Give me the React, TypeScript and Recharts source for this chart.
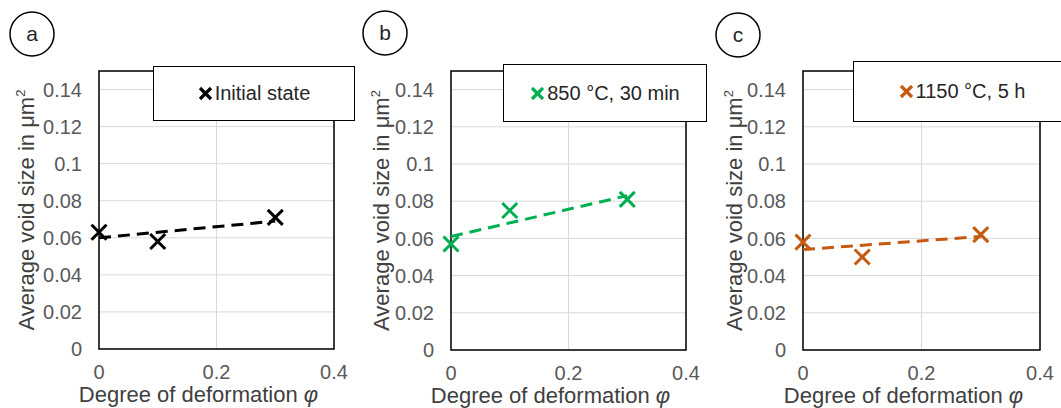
import React from 'react';
import { ComposedChart, Line, Scatter, XAxis, YAxis, CartesianGrid, ReferenceArea, Label } from 'recharts';

const phiValues = [0, 0.1, 0.3];
const initialSize = [0.063, 0.058, 0.071];
const size850 = [0.057, 0.075, 0.081];
const size1150 = [0.058, 0.05, 0.062];

// linear trendlines (end points)
const trendPhi = [0, 0.3];
const initialTrend = [0.06, 0.069];
const trend850 = [0.061, 0.083];
const trend1150 = [0.054, 0.061];

const xTicks = [0, 0.2, 0.4];
const yTicks = [0, 0.02, 0.04, 0.06, 0.08, 0.1, 0.12, 0.14];

const FONT = 'Arial, "Liberation Sans", sans-serif';
const TICK_COLOR = '#595959';

const toPoints = (xs: number[], ys: number[]) => xs.map((phi, i) => ({ phi, size: ys[i] }));

function Cross({ cx, cy, color, size = 7.5, width = 3 }: any) {
  if (cx == null || cy == null) return null;
  return (
    <g>
      <line x1={cx - size} y1={cy - size} x2={cx + size} y2={cy + size} stroke={color} strokeWidth={width} />
      <line x1={cx - size} y1={cy + size} x2={cx + size} y2={cy - size} stroke={color} strokeWidth={width} />
    </g>
  );
}

const XTick = ({ x, y, payload }: any) => (
  <text x={x} y={y} dy="0.71em" textAnchor="middle" fill={TICK_COLOR} fontSize={20} fontFamily={FONT}>
    {String(payload.value)}
  </text>
);

const YTick = ({ x, y, payload }: any) => (
  <text x={x} y={y} dy="0.36em" textAnchor="end" fill={TICK_COLOR} fontSize={20} fontFamily={FONT}>
    {String(payload.value)}
  </text>
);

interface PanelProps {
  left: number;
  width: number;
  plotLeft: number;
  plotRight: number;
  plotBottom: number;
  letter: string;
  circle: { x: number; y: number };
  name: string;
  color: string;
  values: number[];
  trend: number[];
  legend: { left: number; top: number; width: number; height: number };
}

function Panel({ left, width, plotLeft, plotRight, plotBottom, letter, circle, name, color, values, trend, legend }: PanelProps) {
  const points = toPoints(phiValues, values);
  const trendLine = toPoints(trendPhi, trend);
  const xLabelCenter = (plotLeft + plotRight) / 2 - 18;

  return (
    <div style={{ position: 'absolute', left, top: 0, width, height: 408 }}>
      <ComposedChart
        width={width}
        height={408}
        margin={{ top: 71, right: width - plotRight, bottom: 0, left: 0 }}
      >
        <CartesianGrid stroke="#d9d9d9" strokeWidth={1} />
        <XAxis
          dataKey="phi"
          type="number"
          domain={[0, 0.4]}
          ticks={xTicks}
          interval={0}
          height={408 - plotBottom}
          axisLine={false}
          tickLine={false}
          tickSize={0}
          tickMargin={16}
          tick={<XTick />}
        >
          <Label
            content={({ viewBox }: any) => (
              <text x={xLabelCenter} y={viewBox.y + 53} textAnchor="middle" fill="#404040" fontSize={22} fontFamily={FONT}>
                Degree of deformation <tspan fontStyle="italic">φ</tspan>
              </text>
            )}
          />
        </XAxis>
        <YAxis
          type="number"
          domain={[0, 0.15]}
          ticks={yTicks}
          interval={0}
          width={plotLeft}
          axisLine={false}
          tickLine={false}
          tickSize={0}
          tickMargin={17}
          tick={<YTick />}
        >
          <Label
            content={({ viewBox }: any) => {
              const cy = viewBox.y + viewBox.height / 2;
              return (
                <text x={34} y={cy} transform={`rotate(-90, 34, ${cy})`} textAnchor="middle" fill="#404040" fontSize={22} fontFamily={FONT}>
                  Average void size in μm<tspan fontSize={13} dy={-9}>2</tspan>
                </text>
              );
            }}
          />
        </YAxis>
        <ReferenceArea x1={0} x2={0.4} y1={0} y2={0.15} fill="none" stroke="#000" strokeWidth={1.5} />
        <Line
          data={trendLine}
          dataKey="size"
          stroke={color}
          strokeWidth={3}
          strokeDasharray="12 7"
          dot={false}
          activeDot={false}
          legendType="none"
          isAnimationActive={false}
        />
        <Scatter
          data={points}
          dataKey="size"
          name={name}
          shape={(p: any) => <Cross cx={p.cx} cy={p.cy} color={color} />}
          isAnimationActive={false}
        />
      </ComposedChart>

      {/* legend box on top of the plot frame */}
      <div
        style={{
          position: 'absolute',
          left: legend.left,
          top: legend.top,
          width: legend.width,
          height: legend.height,
          boxSizing: 'border-box',
          border: '1.5px solid #000',
          background: '#fff',
          display: 'flex',
          alignItems: 'center',
          justifyContent: 'center',
          fontFamily: FONT,
          fontSize: 20,
          color: '#262626',
          whiteSpace: 'nowrap',
        }}
      >
        <svg width={15} height={15} style={{ marginRight: 2 }}>
          <Cross cx={7.5} cy={7.5} color={color} size={5.5} width={3.2} />
        </svg>
        <span>{name}</span>
      </div>

      {/* panel letter */}
      <svg width={60} height={60} style={{ position: 'absolute', left: circle.x - 30, top: circle.y - 30 }}>
        <circle cx={30} cy={30} r={22} fill="#fff" stroke="#000" strokeWidth={1.5} />
        <text x={30} y={37} textAnchor="middle" fontSize={21} fontFamily={FONT} fill="#262626">
          {letter}
        </text>
      </svg>
    </div>
  );
}

export default function App() {
  return (
    <div style={{ position: 'absolute', left: 0, top: 0, width: 1061, height: 408, background: '#fff', overflow: 'hidden' }}>
      <Panel
        left={0}
        width={355}
        plotLeft={99}
        plotRight={334}
        plotBottom={349}
        letter="a"
        circle={{ x: 32, y: 34 }}
        name="Initial state"
        color="#000000"
        values={initialSize}
        trend={initialTrend}
        legend={{ left: 153, top: 66, width: 202, height: 55 }}
      />
      <Panel
        left={355}
        width={353}
        plotLeft={96}
        plotRight={331}
        plotBottom={350}
        letter="b"
        circle={{ x: 30, y: 33 }}
        name="850 °C, 30 min"
        color="#00b050"
        values={size850}
        trend={trend850}
        legend={{ left: 148, top: 64, width: 204, height: 58 }}
      />
      <Panel
        left={708}
        width={353}
        plotLeft={95}
        plotRight={332}
        plotBottom={350}
        letter="c"
        circle={{ x: 30, y: 35 }}
        name="1150 °C, 5 h"
        color="#c55a11"
        values={size1150}
        trend={trend1150}
        legend={{ left: 145, top: 61, width: 218, height: 61 }}
      />
    </div>
  );
}
